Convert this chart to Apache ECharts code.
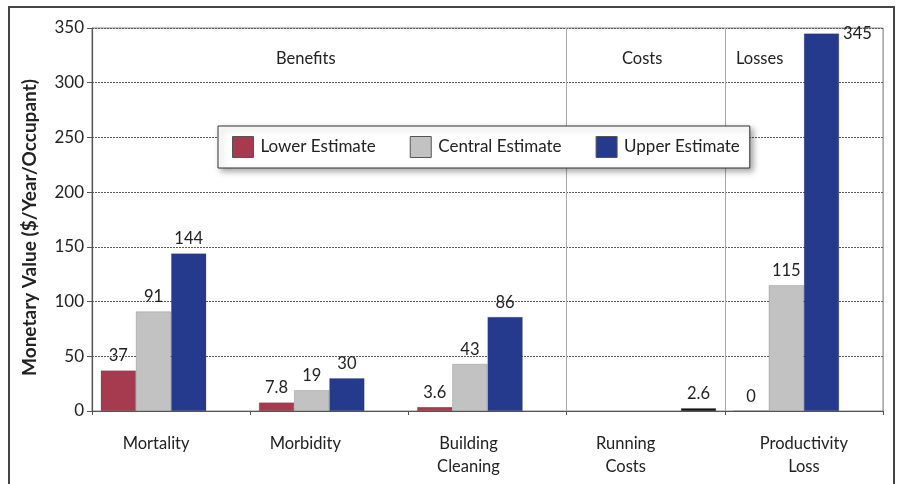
<!DOCTYPE html>
<html>
<head>
<meta charset="utf-8">
<script src="https://cdn.jsdelivr.net/npm/echarts@6/dist/echarts.min.js"></script>
<style>
  html, body { margin: 0; padding: 0; background: #fff; }
  #chart { width: 897px; height: 484px; }
</style>
</head>
<body>
<div id="chart"></div>
<script>
// Monetary value per occupant per year, by impact category
const categories = ['Mortality', 'Morbidity', 'Building\nCleaning', 'Running\nCosts', 'Productivity\nLoss'];
const lowerEstimate = [37, 7.8, 3.6, null, 0];
const centralEstimate = [91, 19, 43, null, 115];
const upperEstimate = [144, 30, 86, null, 345];
const runningCost = [null, null, null, 2.6, null];
const yTicks = { min: 0, max: 350, interval: 50 };
const sectionLabels = ['Benefits', 'Costs', 'Losses'];

// horizontal nudge of each category caption (px, negative = left)
const captionShift = [-15, -24, -19, -20, 0];

const FONT = 'Lato, "Open Sans", sans-serif';
const chart = echarts.init(document.getElementById('chart'), null, { renderer: 'canvas' });

const labelStyle = {
  show: true,
  position: 'top',
  distance: 6,
  fontFamily: FONT,
  fontSize: 16.5,
  color: '#222',
  formatter: p => (p.value === null || p.value === undefined) ? '' : String(p.value)
};

function barSeries(name, data, color) {
  return {
    name, type: 'bar', data,
    barGap: '0%', barCategoryGap: '11%',
    itemStyle: { color, borderColor: 'rgba(60,60,60,0.35)', borderWidth: 0.6 },
    label: labelStyle
  };
}

const upperSeries = barSeries('Upper Estimate', upperEstimate.map((v) => {
  // the tallest bar carries its value beside the top instead of above it
  if (v === 345) {
    return { value: v, label: { position: ['100%', 0], offset: [4, -8], align: 'left', verticalAlign: 'top' } };
  }
  return v;
}), '#253a8c');

const categoryData = categories.map((c, i) => {
  const s = captionShift[i];
  const pad = s < 0 ? [0, -2 * s, 0, 0] : [0, 0, 0, 2 * s];
  return { value: c, textStyle: { padding: pad } };
});

chart.setOption({
  backgroundColor: '#fff',
  textStyle: { fontFamily: FONT },
  grid: {
    left: 92, right: 14, top: 28, bottom: 73,
    show: true, borderColor: '#8a8a8a', borderWidth: 1, backgroundColor: '#fff'
  },
  legend: {
    data: ['Lower Estimate', 'Central Estimate', 'Upper Estimate'],
    left: 218, top: 126,
    padding: [10, 10, 10, 14],
    itemWidth: 21, itemHeight: 21, itemGap: 34,
    icon: 'rect',
    backgroundColor: '#fff',
    borderColor: '#333', borderWidth: 1,
    shadowColor: 'rgba(0,0,0,0.35)', shadowBlur: 6, shadowOffsetX: 3, shadowOffsetY: 3,
    itemStyle: { borderColor: '#555', borderWidth: 1 },
    textStyle: { fontFamily: FONT, fontSize: 17, color: '#222', padding: [0, 0, 0, 2] },
    selectedMode: false
  },
  xAxis: {
    type: 'category',
    data: categoryData,
    axisLine: { lineStyle: { color: '#555', width: 1.2 } },
    axisTick: { show: true, length: 4, lineStyle: { color: '#555' } },
    axisLabel: { fontFamily: FONT, fontSize: 16.5, color: '#222', margin: 21, lineHeight: 23 },
    splitLine: {
      show: true,
      interval: (i) => i === 3 || i === 4,
      lineStyle: { color: '#a8a8a8', width: 1 }
    }
  },
  yAxis: {
    type: 'value',
    min: yTicks.min, max: yTicks.max, interval: yTicks.interval,
    name: 'Monetary Value ($/Year/Occupant)',
    nameLocation: 'middle',
    nameGap: 53,
    nameTextStyle: { fontFamily: FONT, fontSize: 19, fontWeight: 'bold', color: '#222', padding: [0, 16, 0, 0] },
    axisLine: { show: true, lineStyle: { color: '#555', width: 1.2 } },
    axisTick: { show: true, length: 5, lineStyle: { color: '#555' } },
    axisLabel: { fontFamily: FONT, fontSize: 17, color: '#222', margin: 8 },
    splitLine: { show: true, lineStyle: { color: '#5a5a5a', type: [2, 1], width: 1.2 } }
  },
  series: [
    barSeries('Lower Estimate', lowerEstimate, '#a63a4e'),
    barSeries('Central Estimate', centralEstimate, '#c2c2c2'),
    upperSeries,
    barSeries('Running Cost', runningCost, '#111')
  ],
  graphic: [
    // page frame
    { type: 'rect', shape: { x: 9, y: 7, width: 885, height: 500 },
      style: { fill: 'none', stroke: '#444', lineWidth: 2 }, silent: true, z: -1 },
    { type: 'text', left: 276, top: 50, style: { text: sectionLabels[0], font: '16.5px ' + FONT, fill: '#222' } },
    { type: 'text', left: 622, top: 50, style: { text: sectionLabels[1], font: '16.5px ' + FONT, fill: '#222' } },
    { type: 'text', left: 736, top: 50, style: { text: sectionLabels[2], font: '16.5px ' + FONT, fill: '#222' } }
  ]
});
</script>
</body>
</html>
